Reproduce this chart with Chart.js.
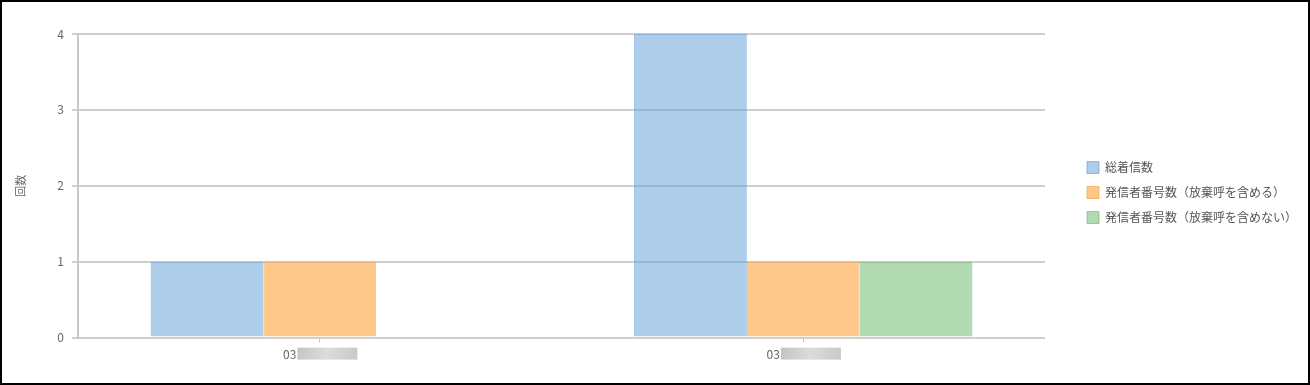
<!DOCTYPE html>
<html>
<head>
<meta charset="utf-8">
<script src="https://cdn.jsdelivr.net/npm/chart.js@4.4.1/dist/chart.umd.min.js"></script>
<style>
  html, body { margin: 0; padding: 0; background: #fff; }
  #marco { width: 1310px; height: 385px; box-sizing: border-box; border: 2px solid #000; position: relative; }
  #grafico { display: block; }
</style>
</head>
<body>
<div id="marco"><canvas id="grafico" width="1306" height="381"></canvas></div>
<script>
// Datos del gráfico
const categorias = ['03', '03'];
const totalLlamadas = [1, 4];
const conAbandono = [1, 1];
const sinAbandono = [0, 1];
const etiquetasY = [0, 1, 2, 3, 4];

const fuente = "'Noto Sans CJK JP', 'Noto Sans', sans-serif";
const relleno = '\u2003\u2003\u2003\u2003\u2003';

// Caja gris que tapa la parte oculta de la etiqueta
const tapaEtiquetas = {
    id: 'tapaEtiquetas',
    afterDraw(chart) {
        const ctx = chart.ctx;
        const ejeX = chart.scales.x;
        ctx.save();
        ctx.font = '12px ' + fuente;
        const anchoTotal = ctx.measureText('03' + relleno).width;
        const anchoNum = ctx.measureText('03').width;
        ejeX.ticks.forEach((t, i) => {
            const cx = ejeX.getPixelForTick(i);
            const x0 = cx - anchoTotal / 2 + anchoNum + 1;
            const y0 = ejeX.top + 10;
            const g = ctx.createLinearGradient(x0, y0, x0 + 60, y0 + 11);
            g.addColorStop(0, '#c4c4c4');
            g.addColorStop(0.5, '#dcdcdc');
            g.addColorStop(1, '#c8c8c8');
            ctx.fillStyle = g;
            ctx.fillRect(x0, y0, 60, 12);
        });
        ctx.restore();
    }
};

// Ancho fijo de la leyenda y desplazamiento a la derecha
const ajusteLeyenda = {
    id: 'ajusteLeyenda',
    beforeInit(chart) {
        const fitOrig = chart.legend.fit;
        chart.legend.fit = function () {
            fitOrig.call(this);
            this.width = 263;
        };
    },
    afterLayout(chart) {
        chart.legend.left += 29;
        chart.legend.top -= 8;
        chart.legend.bottom -= 8;
    }
};

new Chart(document.getElementById('grafico').getContext('2d'), {
    type: 'bar',
    data: {
        labels: categorias,
        datasets: [
            { label: '総着信数', data: totalLlamadas, backgroundColor: 'rgba(91,155,213,0.5)', borderColor: 'rgba(91,155,213,0.6)', borderWidth: 1 },
            { label: '発信者番号数（放棄呼を含める）', data: conAbandono, backgroundColor: 'rgba(251,145,21,0.5)', borderColor: 'rgba(245,150,40,0.6)', borderWidth: 1 },
            { label: '発信者番号数（放棄呼を含めない）', data: sinAbandono, backgroundColor: 'rgba(101,181,101,0.5)', borderColor: 'rgba(101,181,101,0.6)', borderWidth: 1 }
        ]
    },
    options: {
        responsive: false,
        animation: false,
        layout: { padding: { left: 8, top: 32, right: 0, bottom: 16 } },
        categoryPercentage: 0.7,
        barPercentage: 1,
        plugins: {
            legend: {
                position: 'right',
                labels: { boxWidth: 12, boxHeight: 12, padding: 13, color: '#555', font: { family: fuente, size: 12 } }
            },
            tooltip: { enabled: false }
        },
        scales: {
            x: {
                grid: { display: true, drawOnChartArea: false, offset: false, tickLength: 5, color: '#c8c8c8' },
                border: { display: false },
                ticks: {
                    padding: 5,
                    color: '#666', font: { family: fuente, size: 12 },
                    callback: function (v) { return this.getLabelForValue(v) + relleno; }
                }
            },
            y: {
                min: 0, max: 4,
                afterFit: function (eje) { eje.width = 68; },
                title: { display: true, text: '回数', color: '#666', font: { family: fuente, size: 11 } },
                grid: { color: '#cfcfcf', lineWidth: 2, tickLength: 6 },
                border: { color: '#c8c8c8', width: 2 },
                ticks: {
                    stepSize: 1, padding: 8, color: '#666', font: { family: fuente, size: 12 },
                    callback: (v) => etiquetasY.includes(v) ? String(v) : ''
                }
            }
        }
    },
    plugins: [tapaEtiquetas, ajusteLeyenda]
});
</script>
</body>
</html>
